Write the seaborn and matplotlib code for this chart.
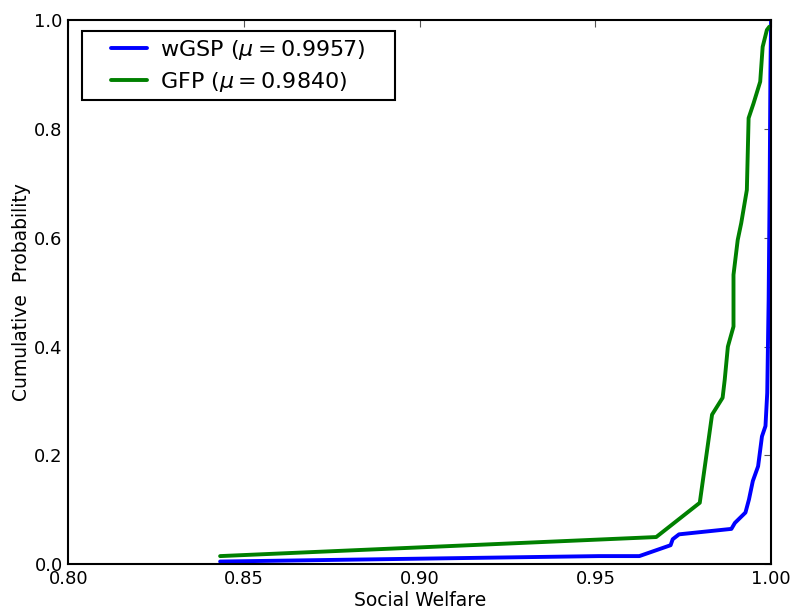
"""
CDF of social welfare for wGSP vs GFP (recreated with seaborn).
"""
import matplotlib
matplotlib.use("Agg")
import matplotlib.pyplot as plt
from matplotlib.patches import Rectangle
import pandas as pd
import seaborn as sns

# --- data ---
wgsp_x = [0.8432, 0.951, 0.9625, 0.9714, 0.972, 0.9738, 0.9887, 0.9897, 0.9927,
          0.9937, 0.9948, 0.9963, 0.9974, 0.9984, 0.9989, 0.9993, 0.9996, 0.9998, 1.0]
wgsp_y = [0.005, 0.015, 0.015, 0.035, 0.046, 0.055, 0.065, 0.076, 0.095,
          0.119, 0.153, 0.180, 0.235, 0.254, 0.315, 0.486, 0.70, 0.90, 1.0]

gfp_x = [0.8432, 0.9673, 0.9797, 0.9813, 0.9832, 0.9862, 0.9868, 0.9877, 0.9893,
         0.9893, 0.9905, 0.9915, 0.9931, 0.9936, 0.9950, 0.9969, 0.9976, 0.9988, 0.9995]
gfp_y = [0.015, 0.050, 0.113, 0.187, 0.275, 0.306, 0.339, 0.400, 0.437,
         0.532, 0.596, 0.627, 0.688, 0.820, 0.847, 0.887, 0.951, 0.982, 0.988]

labels = [r"wGSP ($\mu=$0.9957)", r"GFP ($\mu=$0.9840)"]
colors = ["#0000ff", "#008000"]

x_ticks = [0.80, 0.85, 0.90, 0.95, 1.00]
y_ticks = [0.0, 0.2, 0.4, 0.6, 0.8, 1.0]

df = pd.concat([
    pd.DataFrame({"welfare": wgsp_x, "prob": wgsp_y, "mech": labels[0]}),
    pd.DataFrame({"welfare": gfp_x, "prob": gfp_y, "mech": labels[1]}),
], ignore_index=True)

sns.set_style("white")
plt.rcParams["font.family"] = ["DejaVu Sans"]
plt.rcParams["text.color"] = "black"
plt.rcParams["axes.labelcolor"] = "black"

fig = plt.figure(figsize=(7.97, 6.11), dpi=100)
ax = fig.add_axes([0.0857, 0.0765, 0.8818, 0.8905])

sns.lineplot(data=df, x="welfare", y="prob", hue="mech", palette=colors,
             estimator=None, sort=False, linewidth=2.8, ax=ax)

ax.set_xlim(0.80, 1.00)
ax.set_ylim(0.0, 1.0)
ax.set_xticks(x_ticks)
ax.set_xticklabels([f"{t:.2f}" for t in x_ticks])
ax.set_yticks(y_ticks)
ax.set_yticklabels([f"{t:.1f}" for t in y_ticks])
ax.tick_params(direction="in", top=True, right=True, length=5, width=0.8,
               labelsize=13, pad=4, colors="#555555", labelcolor="black")

for s in ax.spines.values():
    s.set_color("black")
    s.set_linewidth(1.5)

ax.set_xlabel("Social Welfare", fontsize=13.5, labelpad=2)
ax.set_ylabel("Cumulative  Probability", fontsize=13.5, labelpad=2)

# legend without its own frame; a box with wider side padding is drawn round it
leg = ax.legend(loc="upper left", fontsize=16, frameon=False,
                handlelength=1.6, handletextpad=0.6, borderpad=0.2,
                labelspacing=0.35, bbox_to_anchor=(0.0388, 0.996))
for line in leg.get_lines():
    line.set_linewidth(2.8)

fig.canvas.draw()
bb = leg.get_window_extent().transformed(ax.transAxes.inverted())
pad_x = 25 / ax.bbox.width
pad_y = 2 / ax.bbox.height
ax.add_patch(Rectangle((bb.x0 - pad_x, bb.y0 - pad_y), bb.width + 2 * pad_x,
                       bb.height + 2 * pad_y, transform=ax.transAxes,
                       facecolor="white", edgecolor="black", linewidth=1.5,
                       zorder=4))
leg.set_zorder(5)

fig.savefig("out.png", dpi=100)
plt.close(fig)
